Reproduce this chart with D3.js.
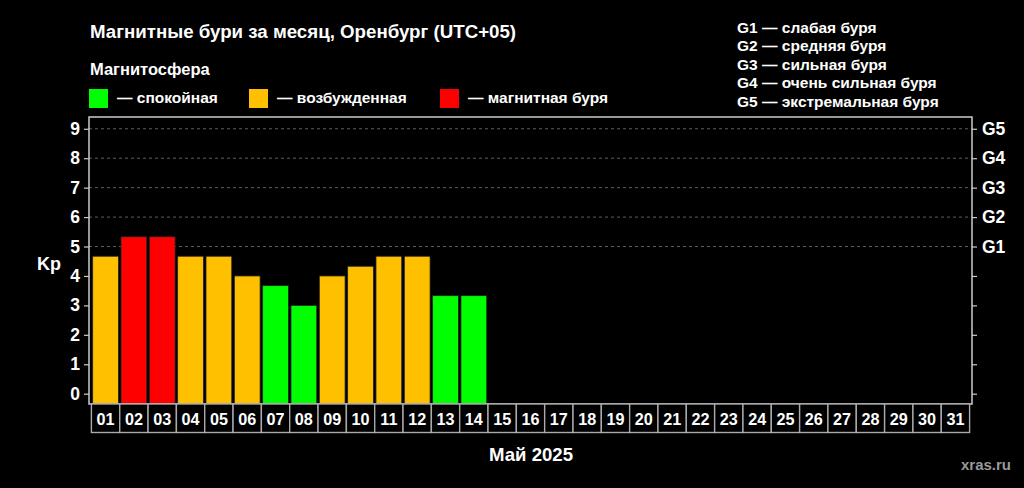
<!DOCTYPE html>
<html>
<head>
<meta charset="utf-8">
<script src="https://cdn.jsdelivr.net/npm/d3@7"></script>
<style>
  body { margin: 0; background: #000; }
  svg { display: block; font-family: "Liberation Sans", Arial, sans-serif; font-weight: bold; }
</style>
</head>
<body>
<svg width="1024" height="488"></svg>
<script>
// days of the month and Kp values (only first 14 days have data)
const days = d3.range(1, 32).map(d => String(d).padStart(2, '0'));
const kpValues = [4.67, 5.33, 5.33, 4.67, 4.67, 4.0, 3.67, 3.0, 4.0, 4.33, 4.67, 4.67, 3.33, 3.33];
const kpTicks = d3.range(0, 10);
const gLabels = ['G1', 'G2', 'G3', 'G4', 'G5'];
const gDescriptions = ['слабая буря', 'средняя буря', 'сильная буря', 'очень сильная буря', 'экстремальная буря'];
const legendItems = [
  { label: '— спокойная', color: '#00ff00' },
  { label: '— возбужденная', color: '#ffc000' },
  { label: '— магнитная буря', color: '#ff0000' },
];

function kpColor(v) {
  if (v >= 5) return '#ff0000';
  if (v >= 4) return '#ffc000';
  return '#00ff00';
}

const svg = d3.select('svg');
const margin = { left: 89, right: 972, top: 117, bottom: 404 };
const fontFamily = '"Liberation Sans", Arial, sans-serif';

const x = d3.scaleBand()
  .domain(days)
  .range([margin.left, margin.right])
  .paddingInner(0.09)
  .paddingOuter(0.13);

const y = d3.scaleLinear()
  .domain([-0.35, 9.4])
  .range([margin.bottom, margin.top]);

// titles
svg.append('text')
  .attr('x', 90).attr('y', 38)
  .attr('fill', '#fff').attr('font-size', 18.7)
  .text('Магнитные бури за месяц, Оренбург (UTC+05)');

svg.append('text')
  .attr('x', 90).attr('y', 75)
  .attr('fill', '#fff').attr('font-size', 16.5)
  .text('Магнитосфера');

// legend
const legendX = [89, 249, 440];
const lg = svg.append('g').selectAll('g')
  .data(legendItems)
  .join('g')
  .attr('transform', (d, i) => `translate(${legendX[i]},89)`);
lg.append('rect')
  .attr('width', 19).attr('height', 19)
  .attr('fill', d => d.color);
lg.append('text')
  .attr('x', 28).attr('y', 14)
  .attr('fill', '#fff').attr('font-size', 15.5)
  .text(d => d.label);

// storm scale on the right
svg.append('g').selectAll('text')
  .data(gLabels)
  .join('text')
  .attr('x', 737)
  .attr('y', (d, i) => 32.5 + i * 18.5)
  .attr('fill', '#fff').attr('font-size', 15.5)
  .text((d, i) => `${d} — ${gDescriptions[i]}`);

// grid lines (storm levels)
svg.append('g').selectAll('line')
  .data(kpTicks.filter(k => k >= 5))
  .join('line')
  .attr('x1', margin.left).attr('x2', margin.right)
  .attr('y1', d => y(d)).attr('y2', d => y(d))
  .attr('stroke', '#777').attr('stroke-width', 0.8)
  .attr('stroke-dasharray', '3,3');

// bars
svg.append('g').selectAll('rect')
  .data(kpValues)
  .join('rect')
  .attr('x', (d, i) => x(days[i]))
  .attr('width', x.bandwidth())
  .attr('y', d => y(d))
  .attr('height', d => y.range()[0] - y(d))
  .attr('fill', d => kpColor(d))
  .attr('stroke', '#222').attr('stroke-width', 0.8);

// frame
svg.append('rect')
  .attr('x', margin.left).attr('y', margin.top)
  .attr('width', margin.right - margin.left)
  .attr('height', margin.bottom - margin.top)
  .attr('fill', 'none')
  .attr('stroke', '#ccc').attr('stroke-width', 1.5);

// left axis
const leftAxis = svg.append('g')
  .attr('transform', `translate(${margin.left},0)`)
  .call(d3.axisLeft(y).tickValues(kpTicks).tickSize(5).tickPadding(4));
leftAxis.select('.domain').remove();
leftAxis.selectAll('line').attr('stroke', '#ccc').attr('stroke-width', 1.2);
leftAxis.selectAll('text')
  .attr('fill', '#fff').attr('font-size', 17.5)
  .attr('font-family', fontFamily).attr('font-weight', 'bold');

// right axis
const rightAxis = svg.append('g')
  .attr('transform', `translate(${margin.right},0)`)
  .call(d3.axisRight(y).tickValues(kpTicks).tickSize(5).tickPadding(5)
    .tickFormat(k => (k >= 5 ? gLabels[k - 5] : '')));
rightAxis.select('.domain').remove();
rightAxis.selectAll('line').attr('stroke', '#ccc').attr('stroke-width', 1.2);
rightAxis.selectAll('text')
  .attr('fill', '#fff').attr('font-size', 17.5)
  .attr('font-family', fontFamily).attr('font-weight', 'bold');

// day cells under the plot
const step = x.step();
const cells = svg.append('g').selectAll('g')
  .data(days)
  .join('g')
  .attr('transform', d => `translate(${x(d) + x.bandwidth() / 2},${margin.bottom})`);
cells.append('rect')
  .attr('x', -step / 2).attr('y', 0)
  .attr('width', step).attr('height', 28.5)
  .attr('fill', '#000')
  .attr('stroke', '#aaa').attr('stroke-width', 1.4);
cells.append('text')
  .attr('y', 20.5)
  .attr('text-anchor', 'middle')
  .attr('fill', '#fff').attr('font-size', 16.2)
  .text(d => d);

// axis titles
svg.append('text')
  .attr('x', 37).attr('y', 270)
  .attr('fill', '#fff').attr('font-size', 18)
  .text('Kp');

svg.append('text')
  .attr('x', 531).attr('y', 461)
  .attr('text-anchor', 'middle')
  .attr('fill', '#fff').attr('font-size', 18.6)
  .text('Май 2025');

svg.append('text')
  .attr('x', 1011).attr('y', 470)
  .attr('text-anchor', 'end')
  .attr('fill', '#999').attr('font-size', 15)
  .text('xras.ru');
</script>
</body>
</html>
